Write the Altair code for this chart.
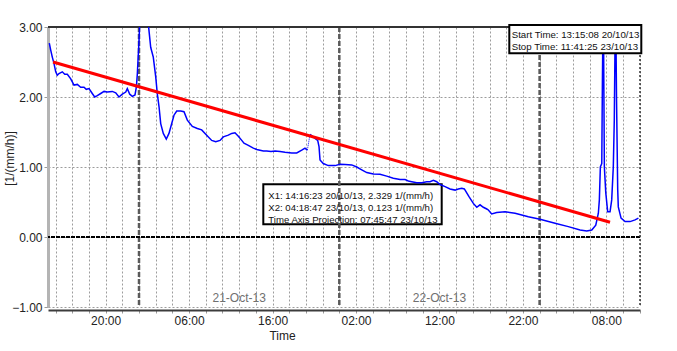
import altair as alt
import pandas as pd

# ---------------- data (hours counted from 20-Oct-13 00:00) ----------------
hours_a = [13.25, 13.42, 13.61, 13.81, 14.02, 14.21, 14.41, 14.81, 15.10, 15.41,
           15.82, 16.21, 16.61, 17.01, 17.41, 17.68, 18.01, 18.40, 18.69, 19.00,
           19.41, 19.81, 20.20, 20.80, 21.21, 21.60, 22.00, 22.41, 22.60, 22.89,
           23.20, 23.52, 23.68, 23.80, 23.96, 24.18, 24.60, 25.11, 25.23, 25.40,
           25.71, 26.00, 26.19, 26.40, 26.60, 26.91, 27.27, 27.59, 27.87, 28.19,
           28.52, 29.00, 29.39, 29.79, 30.39, 30.99, 31.51, 32.11, 32.71, 33.19,
           33.71, 34.10, 34.70, 35.11, 35.50, 35.90, 36.31, 36.58, 37.10, 37.70,
           38.10, 38.50, 38.90, 39.30, 39.82, 40.30, 40.90, 41.50, 42.30, 42.90,
           43.50, 43.89, 44.17]
values_a = [2.77, 2.67, 2.57, 2.48, 2.36, 2.31, 2.335, 2.36, 2.325, 2.325,
            2.26, 2.17, 2.18, 2.14, 2.14, 2.11, 2.12, 2.05, 2.00, 2.02,
            2.05, 2.08, 2.07, 2.08, 2.06, 2.00, 2.04, 2.07, 2.12, 2.04,
            2.01, 2.03, 2.14, 2.33, 2.71, 3.30, 3.60, 3.05, 2.91, 2.71,
            2.57, 2.29, 2.05, 1.86, 1.62, 1.48, 1.40, 1.48, 1.60, 1.74,
            1.80, 1.80, 1.79, 1.67, 1.58, 1.55, 1.53, 1.455, 1.38, 1.36,
            1.38, 1.43, 1.455, 1.48, 1.49, 1.44, 1.38, 1.34, 1.31, 1.27,
            1.25, 1.24, 1.23, 1.23, 1.22, 1.23, 1.22, 1.21, 1.20, 1.20,
            1.24, 1.27, 1.24]
hours_b = [44.49, 45.09, 45.41, 45.57, 45.69, 46.08, 46.68, 47.49, 48.09, 48.69,
           49.49, 50.09, 50.69, 51.29, 52.08, 52.88, 53.68, 54.47, 55.28, 55.88,
           56.27, 56.68, 57.28, 57.88, 58.48, 58.87, 59.27, 59.67, 60.07, 60.67,
           61.27, 61.87, 62.26, 62.67, 62.98, 63.18, 63.54, 64.06, 64.47, 64.86,
           65.26, 65.67, 65.86, 66.26, 66.86, 67.86, 69.06, 70.65, 72.05, 73.85,
           75.44, 76.85, 77.65, 78.25, 78.73, 79.04, 79.16, 79.28, 79.45, 79.52,
           79.63, 79.76, 79.93, 80.16, 80.44, 80.64, 80.83, 80.95, 81.10, 81.22,
           81.36, 81.43, 81.76, 82.24, 82.84, 83.44, 83.84]
values_b = [1.465, 1.41, 1.38, 1.29, 1.10, 1.05, 1.02, 1.02, 1.04, 1.035,
            1.03, 1.00, 0.96, 0.92, 0.90, 0.895, 0.87, 0.84, 0.82, 0.82,
            0.80, 0.79, 0.775, 0.775, 0.79, 0.79, 0.81, 0.79, 0.75, 0.72,
            0.686, 0.67, 0.686, 0.696, 0.686, 0.647, 0.576, 0.48, 0.425, 0.46,
            0.425, 0.40, 0.386, 0.33, 0.35, 0.36, 0.34, 0.29, 0.254, 0.197,
            0.148, 0.10, 0.087, 0.10, 0.17, 0.34, 0.53, 1.00, 1.05, 2.14,
            3.50, 1.00, 0.63, 0.36, 0.36, 0.53, 1.00, 1.67, 3.50, 1.95,
            0.67, 0.43, 0.27, 0.22, 0.22, 0.244, 0.27]

trend_hours = [13.7, 80.44]
trend_values = [2.50, 0.21]

midnight_hours = [24, 48, 72]
date_hours = [36, 60]
date_labels = ["21-Oct-13", "22-Oct-13"]
grid_hours = list(range(14, 85, 2))
y_ticks = [-1, 0, 1, 2, 3]

box1_lines = ["Start Time: 13:15:08 20/10/13", "Stop Time: 11:41:25 23/10/13"]
box2_lines = ["X1: 14:16:23 20/10/13, 2.329 1/(mm/h)",
              "X2: 04:18:47 23/10/13, 0.123 1/(mm/h)",
              "Time Axis Projection: 07:45:47 23/10/13"]

X_DOMAIN = [13.095, 84.03]
Y_DOMAIN = [-1, 3]

# ---------------- chart ----------------
W, H = 592, 280
FONT = "Liberation Sans"
xs = alt.Scale(domain=X_DOMAIN, nice=False, zero=False)
ys = alt.Scale(domain=Y_DOMAIN, nice=False, zero=False)

blue = pd.concat([
    pd.DataFrame({"h": hours_a, "v": values_a, "seg": "a"}),
    pd.DataFrame({"h": hours_b, "v": values_b, "seg": "b"}),
])
gap = pd.DataFrame({"h": [hours_a[-1], hours_b[0]], "v": [values_a[-1], values_b[0]]})
trend = pd.DataFrame({"h": trend_hours, "v": trend_values})

label_expr = ("(datum.value - 20) % 10 == 0 ? "
              "(((datum.value % 24) < 10 ? '0' : '') + (datum.value % 24) + ':00') : ''")

x_axis = alt.Axis(values=grid_hours, labelExpr=label_expr, grid=True,
                  gridDash=[2, 2], gridColor="#9c9c9c", gridWidth=1,
                  domainColor="#3c3c3c", domainWidth=2, offset=3,
                  tickSize=3, tickColor="#999999", labelFontSize=12,
                  labelColor="#222222", labelPadding=2, labelFlush=False,
                  labelOverlap=False, title="Time", titleFontSize=12,
                  titleFontWeight="normal", titleColor="#222222",
                  titleX=234, titlePadding=4)
y_axis = alt.Axis(values=y_ticks, format=".2f", grid=True, gridDash=[2, 2],
                  gridColor="#9c9c9c", gridWidth=1, domainColor="#b4b4b4",
                  domainWidth=3, tickSize=4, tickColor="#999999",
                  labelFontSize=12, labelColor="#222222", labelPadding=2,
                  title="[1/(mm/h)]", titleFontSize=12, titleFontWeight="normal",
                  titleColor="#222222", titleX=-39, titleY=131,
                  titleBaseline="middle")


def X(field="h:Q"):
    return alt.X(field, scale=xs, axis=x_axis)


def Y(field="v:Q"):
    return alt.Y(field, scale=ys, axis=y_axis)


one = alt.Data(values=[{"k": 1}])

box2 = alt.Chart(one).mark_rect(fill="white", stroke="black", strokeWidth=2).encode(
    x=alt.value(215.3), x2=alt.value(393.7), y=alt.value(157.3), y2=alt.value(197.3))

midnight = alt.Chart(pd.DataFrame({"h": midnight_hours})).mark_rule(
    color="#5a5a5a", strokeWidth=2.5, strokeDash=[5, 2]).encode(x=X())

zero = alt.Chart(pd.DataFrame({"v": [0]})).mark_rule(
    color="black", strokeWidth=2, strokeDash=[4, 1]).encode(y=Y())

top = alt.Chart(pd.DataFrame({"v": [Y_DOMAIN[1]]})).mark_rule(
    color="#333333", strokeWidth=2).encode(y=Y())

right = alt.Chart(pd.DataFrame({"h": [X_DOMAIN[1]]})).mark_rule(
    color="#333333", strokeWidth=1.5, strokeDash=[2, 2]).encode(x=X())

blue_line = alt.Chart(blue).mark_line(color="#0000ff", strokeWidth=1.5, clip=True).encode(
    x=X(), y=Y(), detail="seg:N")

gap_line = alt.Chart(gap).mark_line(color="#0000ff", strokeWidth=1, strokeDash=[1, 1]).encode(
    x=X(), y=Y())

trend_line = alt.Chart(trend).mark_line(color="#ff0000", strokeWidth=3).encode(
    x=X(), y=Y())

dates = alt.Chart(pd.DataFrame({"h": date_hours, "t": date_labels})).mark_text(
    color="#707070", fontSize=12, font=FONT, baseline="middle").encode(
    x=X(), y=alt.value(271), text="t:N")

layers = [box2, midnight, zero, top, right, blue_line, gap_line, trend_line, dates]

for i, line in enumerate(box2_lines):
    layers.append(alt.Chart(one).mark_text(
        align="left", baseline="middle", fontSize=9.6, font=FONT, color="#111111").encode(
        x=alt.value(220.3), y=alt.value(169.3 + 11.6 * i), text=alt.value(line)))

layers.append(alt.Chart(one).mark_rect(fill="white", stroke="black", strokeWidth=2).encode(
    x=alt.value(461.3), x2=alt.value(593.3), y=alt.value(-2), y2=alt.value(26.3)))
for i, line in enumerate(box1_lines):
    layers.append(alt.Chart(one).mark_text(
        align="left", baseline="middle", fontSize=9.7, font=FONT, color="#111111").encode(
        x=alt.value(463.7), y=alt.value(8 + 11.5 * i), text=alt.value(line)))

chart = alt.layer(*layers).properties(
    width=W, height=H,
    autosize=alt.AutoSizeParams(type="none"),
    padding={"left": 48, "top": 27, "right": 37, "bottom": 44},
    background="white",
).configure(font=FONT).configure_view(stroke=None)

chart.save("out.html", embed_options={"renderer": "svg", "actions": False})
